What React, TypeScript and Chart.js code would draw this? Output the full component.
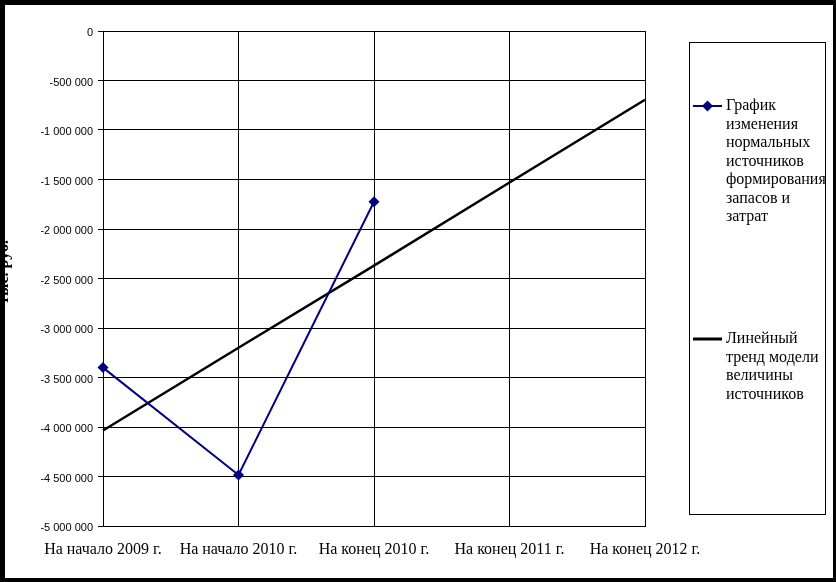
import React, { useEffect, useRef } from 'react';
import { Chart, registerables } from 'chart.js';

Chart.register(...registerables);

const categories = ['На начало 2009 г.', 'На начало 2010 г.', 'На конец 2010 г.', 'На конец 2011 г.', 'На конец 2012 г.'];
const sourcesValues: (number | null)[] = [-3400000, -4485000, -1725000, null, null];
const trendValues = [-4035000, -3200000, -2370000, -1530000, -695000];
const yMin = -5000000;
const yMax = 0;
const yStep = 500000;
const yTitle = 'тыс. руб.';
const legendSources = ['График', 'изменения', 'нормальных', 'источников', 'формирования', 'запасов и', 'затрат'];
const legendTrend = ['Линейный', 'тренд модели', 'величины', 'источников'];

const NAVY = '#000080';

function fmt(v: number): string {
  const s = Math.abs(v).toString().replace(/\B(?=(\d{3})+(?!\d))/g, ' ');
  return (v < 0 ? '-' : '') + s;
}

const decorPlugin = {
  id: 'decor',
  afterDraw(chart: any) {
    const ctx = chart.ctx as CanvasRenderingContext2D;
    ctx.save();
    // legend box
    ctx.strokeStyle = '#000';
    ctx.lineWidth = 1;
    ctx.strokeRect(689.5, 42.5, 136, 472);
    const serif = '16px "Liberation Serif", "Times New Roman", serif';
    ctx.font = serif;
    ctx.fillStyle = '#000';
    ctx.textAlign = 'left';
    ctx.textBaseline = 'middle';
    // item 1
    ctx.strokeStyle = NAVY;
    ctx.lineWidth = 2;
    ctx.beginPath();
    ctx.moveTo(693, 106);
    ctx.lineTo(722, 106);
    ctx.stroke();
    ctx.fillStyle = NAVY;
    ctx.beginPath();
    ctx.moveTo(707.5, 100.5);
    ctx.lineTo(713, 106);
    ctx.lineTo(707.5, 111.5);
    ctx.lineTo(702, 106);
    ctx.closePath();
    ctx.fill();
    ctx.fillStyle = '#000';
    legendSources.forEach((t, i) => ctx.fillText(t, 726, 106 + i * 18.5));
    // item 2
    ctx.strokeStyle = '#000';
    ctx.lineWidth = 3;
    ctx.beginPath();
    ctx.moveTo(693, 339);
    ctx.lineTo(722, 339);
    ctx.stroke();
    legendTrend.forEach((t, i) => ctx.fillText(t, 726, 339 + i * 18.5));
    // y-axis title (partially hidden behind frame)
    ctx.save();
    ctx.translate(8, 272);
    ctx.rotate(-Math.PI / 2);
    ctx.font = 'bold 16px "Liberation Serif", "Times New Roman", serif';
    ctx.textAlign = 'center';
    ctx.textBaseline = 'alphabetic';
    ctx.fillText(yTitle, 0, 0);
    ctx.restore();
    // outer black frame
    ctx.fillStyle = '#000';
    ctx.fillRect(0, 0, 836, 5);
    ctx.fillRect(0, 0, 5, 582);
    ctx.fillRect(833, 0, 3, 582);
    ctx.fillRect(0, 578, 836, 4);
    ctx.restore();
  },
};

export default function App() {
  const ref = useRef<HTMLCanvasElement>(null);
  useEffect(() => {
    if (!ref.current) return;
    const chart = new Chart(ref.current, {
      type: 'line',
      data: {
        labels: categories,
        datasets: [
          {
            label: legendSources.join(' '),
            data: sourcesValues,
            borderColor: NAVY,
            backgroundColor: NAVY,
            borderWidth: 2,
            pointStyle: 'rectRot',
            pointRadius: 5.5,
            pointBorderWidth: 0,
            tension: 0,
            clip: false as any,
            spanGaps: false,
          },
          {
            label: legendTrend.join(' '),
            data: trendValues,
            borderColor: '#000',
            borderWidth: 2.5,
            pointRadius: 0,
            tension: 0,
            clip: false as any,
          },
        ],
      },
      options: {
        responsive: false,
        animation: false,
        layout: { padding: { left: 0, top: 31, right: 191, bottom: 0 } },
        plugins: { legend: { display: false }, tooltip: { enabled: false } },
        scales: {
          x: {
            offset: false,
            grid: { color: '#000', lineWidth: 1, tickLength: 0, drawTicks: false },
            border: { color: '#000', width: 1 },
            ticks: {
              color: '#000',
              padding: 14,
              maxRotation: 0,
              autoSkip: false,
              font: { family: '"Liberation Serif", "Times New Roman", serif', size: 16 },
            },
            afterFit(scale: any) {
              scale.height = 56;
            },
          },
          y: {
            min: yMin,
            max: yMax,
            grid: { color: '#000', lineWidth: 1, tickLength: 5 },
            border: { color: '#000', width: 1 },
            ticks: {
              stepSize: yStep,
              color: '#000',
              padding: 5,
              labelOffset: 2,
              font: { family: '"Liberation Sans", Arial, sans-serif', size: 11 },
              callback: (v: any) => fmt(Number(v)),
            },
            afterFit(scale: any) {
              scale.width = 103;
            },
          },
        },
      },
      plugins: [decorPlugin],
    });
    return () => chart.destroy();
  }, []);
  return (
    <div style={{ position: 'absolute', left: 0, top: 0, width: 836, height: 582, background: '#fff' }}>
      <canvas ref={ref} width={836} height={582} />
    </div>
  );
}
